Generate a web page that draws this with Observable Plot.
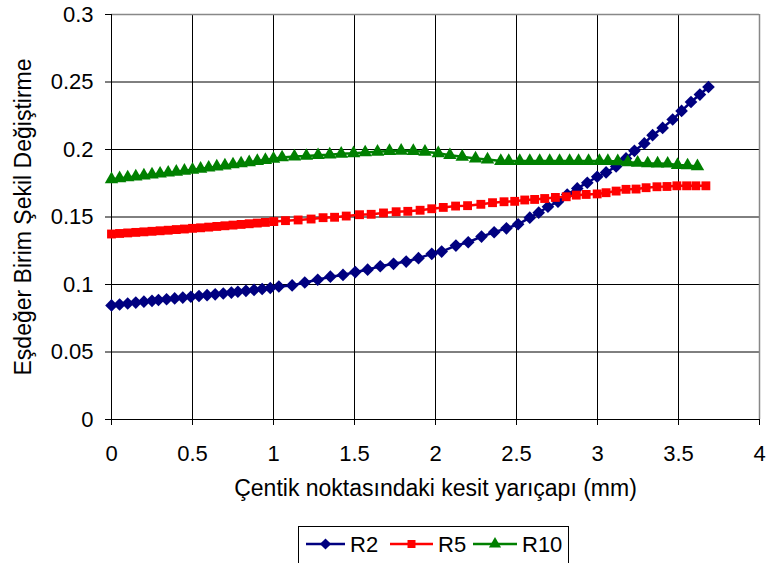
<!DOCTYPE html>
<html>
<head>
<meta charset="utf-8">
<script src="https://cdn.jsdelivr.net/npm/d3@7"></script>
<script src="https://cdn.jsdelivr.net/npm/@observablehq/plot@0.6"></script>
<style>
  html, body { margin: 0; padding: 0; background: #fff; }
  #wrap { position: relative; width: 769px; height: 563px; overflow: hidden; font-family: "Liberation Sans", Arial, sans-serif; }
  #legend { position: absolute; left: 0; top: 520px; }
</style>
</head>
<body>
<div id="wrap"><div id="chart"></div><div id="legend"></div></div>
<script>
// ---- data ----
const seriesNames = ["R2", "R5", "R10"];
const seriesColors = ["#000080", "#FF0000", "#008000"];

const r2X = [0, 0.05, 0.10, 0.15, 0.20, 0.25, 0.29, 0.34, 0.39, 0.44, 0.49, 0.54, 0.59, 0.64, 0.69, 0.74, 0.78, 0.83, 0.88, 0.93, 0.98,
  1.033, 1.115, 1.193, 1.273, 1.351, 1.429, 1.505, 1.581, 1.659, 1.741, 1.819, 1.895, 1.977,
  2.038, 2.126, 2.202, 2.284, 2.362, 2.438, 2.51, 2.582, 2.637, 2.694, 2.756, 2.813, 2.875, 2.937, 2.998,
  3.053, 3.115, 3.176, 3.228, 3.289, 3.34, 3.402, 3.464, 3.519, 3.577, 3.632, 3.685];
const r2Y = [0.0845, 0.0852, 0.0859, 0.0866, 0.0873, 0.0879, 0.0885, 0.0891, 0.0897, 0.0903, 0.0909, 0.0915, 0.0921, 0.0927, 0.0933, 0.0940, 0.0946, 0.0953, 0.0960, 0.0967, 0.0974,
  0.0985, 0.0993, 0.1015, 0.1035, 0.1058, 0.1071, 0.1092, 0.1110, 0.1135, 0.1153, 0.1170, 0.1195, 0.1227,
  0.1244, 0.1288, 0.1313, 0.1355, 0.1387, 0.1416, 0.1446, 0.1495, 0.1532, 0.1576, 0.1613, 0.1667, 0.1712, 0.1754, 0.1798,
  0.1830, 0.1875, 0.1934, 0.1990, 0.2045, 0.2106, 0.2160, 0.2222, 0.2286, 0.2352, 0.2407, 0.2463];

const r5X = [0, 0.05, 0.10, 0.15, 0.20, 0.25, 0.30, 0.35, 0.40, 0.45, 0.50, 0.55, 0.60, 0.65, 0.70, 0.75, 0.80, 0.85, 0.90, 0.95,
  1.002, 1.074, 1.152, 1.232, 1.306, 1.377, 1.449, 1.531, 1.603, 1.679, 1.757, 1.829, 1.905, 1.977,
  2.048, 2.124, 2.198, 2.28, 2.352, 2.423, 2.489, 2.551, 2.612, 2.674, 2.74, 2.807, 2.869, 2.93, 2.998,
  3.053, 3.115, 3.176, 3.238, 3.3, 3.367, 3.429, 3.49, 3.55, 3.607, 3.669];
const r5Y = [0.1374, 0.1378, 0.1382, 0.1386, 0.1390, 0.1394, 0.1398, 0.1402, 0.1407, 0.1411, 0.1416, 0.1420, 0.1425, 0.1430, 0.1435, 0.1440, 0.1445, 0.1450, 0.1455, 0.1460,
  0.1466, 0.1473, 0.1478, 0.1485, 0.1495, 0.1498, 0.1507, 0.1517, 0.1520, 0.1530, 0.1539, 0.1542, 0.1550, 0.1561,
  0.1571, 0.1581, 0.1584, 0.1594, 0.1606, 0.1613, 0.1616, 0.1626, 0.1630, 0.1637, 0.1645, 0.1650, 0.1662, 0.1667, 0.1671,
  0.1680, 0.1692, 0.1705, 0.1707, 0.1717, 0.1724, 0.1726, 0.1731, 0.1731, 0.1731, 0.1731];

const r10X = [0, 0.05, 0.10, 0.15, 0.20, 0.25, 0.30, 0.35, 0.40, 0.45, 0.50, 0.55, 0.60, 0.65, 0.70, 0.75, 0.80, 0.85, 0.90, 0.95, 1.0,
  1.053, 1.129, 1.203, 1.275, 1.347, 1.418, 1.494, 1.566, 1.642, 1.716, 1.788, 1.863, 1.935,
  2.017, 2.089, 2.165, 2.247, 2.321, 2.403, 2.452, 2.52, 2.582, 2.643, 2.705, 2.766, 2.828, 2.883, 2.945, 3.012,
  3.064, 3.125, 3.187, 3.248, 3.31, 3.371, 3.433, 3.494, 3.556, 3.617];
const r10Y = [0.1779, 0.1786, 0.1793, 0.1800, 0.1807, 0.1814, 0.1821, 0.1828, 0.1835, 0.1842, 0.1850, 0.1857, 0.1865, 0.1873, 0.1881, 0.1889, 0.1897, 0.1905, 0.1914, 0.1922, 0.1931,
  0.1941, 0.1948, 0.1952, 0.1958, 0.1962, 0.1968, 0.1972, 0.1978, 0.1983, 0.1988, 0.1990, 0.1988, 0.1983,
  0.1972, 0.1958, 0.1946, 0.1933, 0.1926, 0.1914, 0.1914, 0.1914, 0.1914, 0.1914, 0.1914, 0.1914, 0.1914, 0.1914, 0.1914, 0.1914,
  0.1914, 0.1912, 0.1905, 0.1901, 0.1897, 0.1896, 0.1895, 0.1885, 0.1882, 0.1875];

const xTicks = [0, 0.5, 1, 1.5, 2, 2.5, 3, 3.5, 4];
const yTicks = [0, 0.05, 0.1, 0.15, 0.2, 0.25, 0.3];
const xLabel = "Çentik noktasındaki kesit yarıçapı (mm)";
const yLabel = "Eşdeğer Birim Şekil Değiştirme";

// ---- build table ----
const rows = [];
[[r2X, r2Y], [r5X, r5Y], [r10X, r10Y]].forEach(([xs, ys], i) => {
  xs.forEach((x, j) => rows.push({series: seriesNames[i], x, y: ys[j]}));
});
const bySeries = name => rows.filter(d => d.series === name);
const symbols = {R2: "diamond2", R5: "square", R10: "triangle"};
const radii = {R2: 5.7, R5: 5.0, R10: 5.0};

const seriesMarks = seriesNames.flatMap((name, i) => [
  Plot.line(bySeries(name), {x: "x", y: "y", stroke: seriesColors[i], strokeWidth: 2.5}),
  Plot.dot(bySeries(name), {x: "x", y: "y", symbol: symbols[name], r: radii[name], fill: seriesColors[i], stroke: "none"})
]);

const chart = Plot.plot({
  width: 769,
  height: 520,
  marginLeft: 111,
  marginRight: 10,
  marginTop: 14,
  marginBottom: 101,
  style: {fontFamily: "'Liberation Sans', Arial, sans-serif", fontSize: "22px", color: "#000", background: "#fff", overflow: "visible"},
  x: {domain: [0, 4], ticks: xTicks, tickFormat: d => String(d), tickSize: 6, tickPadding: 20, label: null},
  y: {domain: [0, 0.3], ticks: yTicks, tickFormat: d => String(d), tickSize: 6, tickPadding: 12, label: null},
  marks: [
    Plot.ruleY(yTicks.filter(v => v > 0 && v < 0.3), {stroke: "#000", strokeWidth: 1}),
    Plot.ruleX(xTicks.filter(v => v > 0 && v < 4), {stroke: "#000", strokeWidth: 1}),
    Plot.ruleY([0.3], {stroke: "#888", strokeWidth: 1.5}),
    Plot.ruleX([4], {stroke: "#888", strokeWidth: 1.5}),
    Plot.ruleX([0], {stroke: "#000", strokeWidth: 1}),
    Plot.ruleY([0], {stroke: "#000", strokeWidth: 1}),
    ...seriesMarks,
    Plot.text([xLabel], {frameAnchor: "bottom", dy: 76, text: d => d, fontSize: 23, fill: "#000", textAnchor: "middle"}),
    Plot.text([yLabel], {frameAnchor: "left", dx: -88, rotate: -90, text: d => d, fontSize: 23, fill: "#000", textAnchor: "middle"})
  ]
});
document.getElementById("chart").appendChild(chart);

// ---- legend ----
const leg = d3.select("#legend").append("svg").attr("width", 769).attr("height", 43)
  .style("font-family", "'Liberation Sans', Arial, sans-serif");
leg.append("rect").attr("x", 298.5).attr("y", 6.5).attr("width", 270).attr("height", 45)
  .attr("fill", "#fff").attr("stroke", "#000").attr("stroke-width", 1);
const items = [
  {name: "R2", x0: 306, x1: 345, tx: 350, sym: d3.symbolDiamond2, size: 80},
  {name: "R5", x0: 390, x1: 433, tx: 438, sym: d3.symbolSquare, size: 64},
  {name: "R10", x0: 473, x1: 517, tx: 522, sym: d3.symbolTriangle, size: 64}
];
items.forEach((it, i) => {
  const cy = 24;
  leg.append("line").attr("x1", it.x0).attr("x2", it.x1).attr("y1", cy).attr("y2", cy)
    .attr("stroke", seriesColors[i]).attr("stroke-width", 2.5);
  leg.append("path").attr("d", d3.symbol(it.sym, it.size)())
    .attr("transform", `translate(${(it.x0 + it.x1) / 2},${cy})`).attr("fill", seriesColors[i]);
  leg.append("text").attr("x", it.tx).attr("y", cy).attr("dy", "0.36em")
    .attr("font-size", 22).attr("fill", "#000").text(it.name);
});
</script>
</body>
</html>
